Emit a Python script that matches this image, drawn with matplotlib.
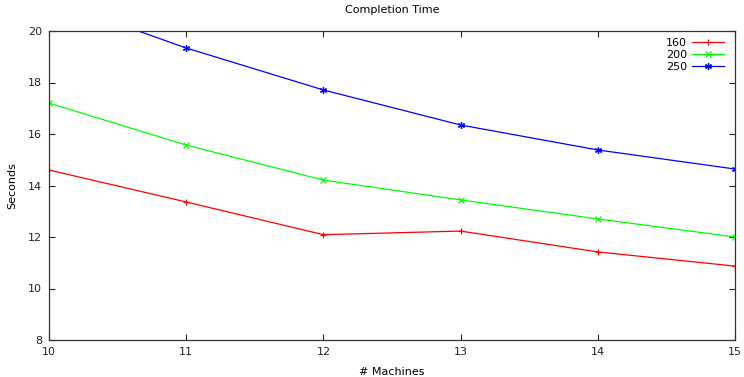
import matplotlib
matplotlib.use("Agg")
import matplotlib.pyplot as plt

# Completion time (seconds) vs. number of machines
machines = [10, 11, 12, 13, 14, 15]
t_160 = [14.60, 13.36, 12.09, 12.23, 11.42, 10.87]
t_200 = [17.20, 15.57, 14.21, 13.44, 12.70, 12.00]
t_250 = [21.23, 19.34, 17.71, 16.35, 15.38, 14.64]

series = [
    ("160", t_160, "#ff0000", "+"),
    ("200", t_200, "#00ff00", "x"),
    ("250", t_250, "#0000ff", (6, 2, 0)),
]

plt.rcParams["font.family"] = "DejaVu Sans"
plt.rcParams["font.size"] = 8

fig = plt.figure(figsize=(7.44, 3.77), dpi=100)
ax = fig.add_axes([49 / 744, 37 / 377, 686 / 744, 309 / 377])

for label, vals, color, marker in series:
    ax.plot(machines, vals, color=color, lw=0.9, marker=marker,
            markersize=5, markeredgewidth=0.9, label=label, clip_on=True)

ax.set_xlim(10, 15)
ax.set_ylim(8, 20)
ax.set_xticks(machines)
ax.set_yticks(range(8, 21, 2))
ax.tick_params(direction="in", length=4, width=0.8, top=True, right=True,
               labelsize=8, pad=5, colors="#222222")
for sp in ax.spines.values():
    sp.set_color("#333333")
    sp.set_linewidth(0.9)

ax.set_title("Completion Time", fontsize=8, pad=13)
ax.set_xlabel("# Machines", fontsize=8, labelpad=7)
ax.set_ylabel("Seconds", fontsize=8, labelpad=8)

ax.legend(loc="upper right", frameon=False, markerfirst=False,
          handlelength=2.8, handletextpad=0.5, labelspacing=0.2,
          fontsize=8, borderaxespad=0.3, borderpad=0.3,
          bbox_to_anchor=(0.993, 1.0))

fig.savefig("out.png", dpi=100)
